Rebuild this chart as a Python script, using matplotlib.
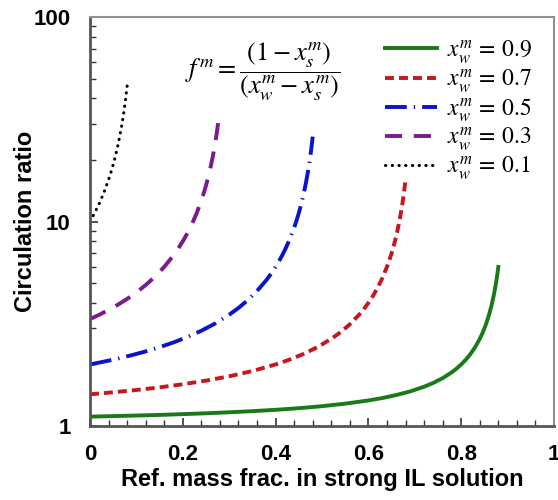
import numpy as np
import matplotlib.pyplot as plt
from matplotlib.ticker import MultipleLocator, LogLocator, NullFormatter, FixedLocator

plt.rcParams['mathtext.fontset'] = 'stix'

# circulation ratio vs. refrigerant mass fraction in strong solution, one series per x_w
xs_09 = [0, 0.05, 0.1, 0.15, 0.2, 0.25, 0.3, 0.35, 0.4, 0.45, 0.5, 0.55, 0.6, 0.63, 0.66, 0.69,
         0.72, 0.74, 0.76, 0.78, 0.79, 0.8, 0.81, 0.82, 0.83, 0.84, 0.845, 0.85, 0.855, 0.86,
         0.865, 0.87, 0.873, 0.876, 0.878, 0.88]
f_09 = [1.111, 1.118, 1.125, 1.133, 1.143, 1.154, 1.167, 1.182, 1.2, 1.222, 1.25, 1.286, 1.333,
        1.370, 1.417, 1.476, 1.556, 1.625, 1.714, 1.833, 1.909, 2.0, 2.111, 2.25, 2.429, 2.667,
        2.818, 3.0, 3.222, 3.5, 3.857, 4.333, 4.704, 5.167, 5.545, 6.0]

xs_07 = [0, 0.05, 0.1, 0.15, 0.2, 0.25, 0.3, 0.35, 0.4, 0.43, 0.46, 0.49, 0.52, 0.54, 0.56, 0.58,
         0.59, 0.6, 0.61, 0.62, 0.63, 0.64, 0.645, 0.65, 0.655, 0.66, 0.665, 0.67, 0.673, 0.676,
         0.678, 0.68]
f_07 = [1.429, 1.462, 1.5, 1.545, 1.6, 1.667, 1.75, 1.857, 2.0, 2.111, 2.25, 2.429, 2.667, 2.875,
        3.143, 3.5, 3.727, 4.0, 4.333, 4.75, 5.286, 6.0, 6.455, 7.0, 7.667, 8.5, 9.571, 11.0,
        12.11, 13.5, 14.64, 16.0]

xs_05 = [0, 0.03, 0.06, 0.09, 0.12, 0.15, 0.18, 0.21, 0.24, 0.27, 0.3, 0.32, 0.34, 0.36, 0.38,
         0.39, 0.4, 0.41, 0.42, 0.43, 0.44, 0.445, 0.45, 0.455, 0.46, 0.465, 0.47, 0.473, 0.476,
         0.478, 0.48]
f_05 = [2.0, 2.064, 2.136, 2.220, 2.316, 2.429, 2.563, 2.724, 2.923, 3.174, 3.5, 3.778, 4.125,
        4.571, 5.167, 5.545, 6.0, 6.556, 7.25, 8.143, 9.333, 10.09, 11.0, 12.11, 13.5, 15.29,
        17.67, 19.52, 21.83, 23.73, 26.0]

xs_03 = [0, 0.02, 0.04, 0.06, 0.08, 0.1, 0.12, 0.14, 0.16, 0.18, 0.19, 0.2, 0.21, 0.22, 0.23,
         0.24, 0.245, 0.25, 0.255, 0.26, 0.265, 0.27, 0.273, 0.276, 0.278]
f_03 = [3.333, 3.5, 3.692, 3.917, 4.182, 4.5, 4.889, 5.375, 6.0, 6.833, 7.364, 8.0, 8.778, 9.75,
        11.0, 12.67, 13.73, 15.0, 16.56, 18.5, 21.0, 24.33, 26.93, 30.17, 32.82]

xs_01 = [0, 0.01, 0.02, 0.03, 0.04, 0.045, 0.05, 0.055, 0.06, 0.065, 0.07, 0.073, 0.076, 0.078, 0.08]
f_01 = [10.0, 11.0, 12.25, 13.86, 16.0, 17.36, 19.0, 21.0, 23.5, 26.71, 31.0, 34.33, 38.5, 41.91, 46.0]

labels = [r'$x_w^m\,=\,0.9$', r'$x_w^m\,=\,0.7$', r'$x_w^m\,=\,0.5$',
          r'$x_w^m\,=\,0.3$', r'$x_w^m\,=\,0.1$']

fig = plt.figure(figsize=(5.58, 5.0), dpi=100)
ax = fig.add_axes([90/558, 1 - 426/500, 464/558, 409/500])

ax.plot(xs_09, f_09, color='#1a7a1a', lw=2.8, label=labels[0])
ax.plot(xs_07, f_07, color='#c8161d', lw=2.8, dashes=(2.3, 1.3), label=labels[1])
ax.plot(xs_05, f_05, color='#0a14c8', lw=2.8, dashes=(5.6, 1.8, 0.35, 1.8), label=labels[2])
ax.plot(xs_03, f_03, color='#7a1a8c', lw=2.8, dashes=(4.4, 3.0), label=labels[3])
ax.plot(xs_01, f_01, color='black', lw=2.2, dashes=(0.1, 2.1), dash_capstyle='round',
        label=labels[4])

ax.set_yscale('log')
ax.set_xlim(0, 1)
ax.set_ylim(1, 100)

ax.xaxis.set_major_locator(FixedLocator([0, 0.2, 0.4, 0.6, 0.8, 1.0]))
ax.xaxis.set_minor_locator(MultipleLocator(0.04))
ax.set_xticklabels(['0', '0.2', '0.4', '0.6', '0.8', '1'])
ax.yaxis.set_major_locator(FixedLocator([1, 10, 100]))
ax.yaxis.set_minor_locator(LogLocator(base=10, subs=np.arange(2, 10)))
ax.yaxis.set_minor_formatter(NullFormatter())
ax.set_yticklabels(['1', '10', '100'])

ax.tick_params(which='both', direction='in', top=False, right=False, colors='#333333',
               labelcolor='black')
ax.tick_params(which='major', length=6, width=1.2)
ax.tick_params(which='minor', length=4, width=1.0)
ax.tick_params(axis='x', which='major', pad=13)
ax.tick_params(axis='y', which='major', pad=14)
for lab in ax.get_xticklabels() + ax.get_yticklabels():
    lab.set_fontfamily('Liberation Sans')
    lab.set_fontweight('bold')
    lab.set_fontsize(16)

for side in ['top', 'right']:
    ax.spines[side].set_color('#909090')
    ax.spines[side].set_linewidth(1.5)
for side in ['left', 'bottom']:
    ax.spines[side].set_color('#555555')
    ax.spines[side].set_linewidth(2.0)

ax.set_xlabel('Ref. mass frac. in strong IL solution', fontfamily='Liberation Sans',
              fontweight='bold', fontsize=17, labelpad=2)
ax.set_ylabel('Circulation ratio', fontfamily='Liberation Sans',
              fontweight='bold', fontsize=17)
ax.yaxis.set_label_coords(-0.114, 0.5)

ax.text(0.205, 0.866, r'$f^m = \dfrac{\left(1 - x_s^m\right)}{\left(x_w^m - x_s^m\right)}$',
        transform=ax.transAxes, fontsize=19, va='center', ha='left')

ax.legend(loc='upper left', bbox_to_anchor=(0.6, 0.99), frameon=False, fontsize=17,
          handlelength=2.2, handletextpad=0.45, labelspacing=0.06, borderpad=0.2)

fig.savefig('out.png', dpi=100)
